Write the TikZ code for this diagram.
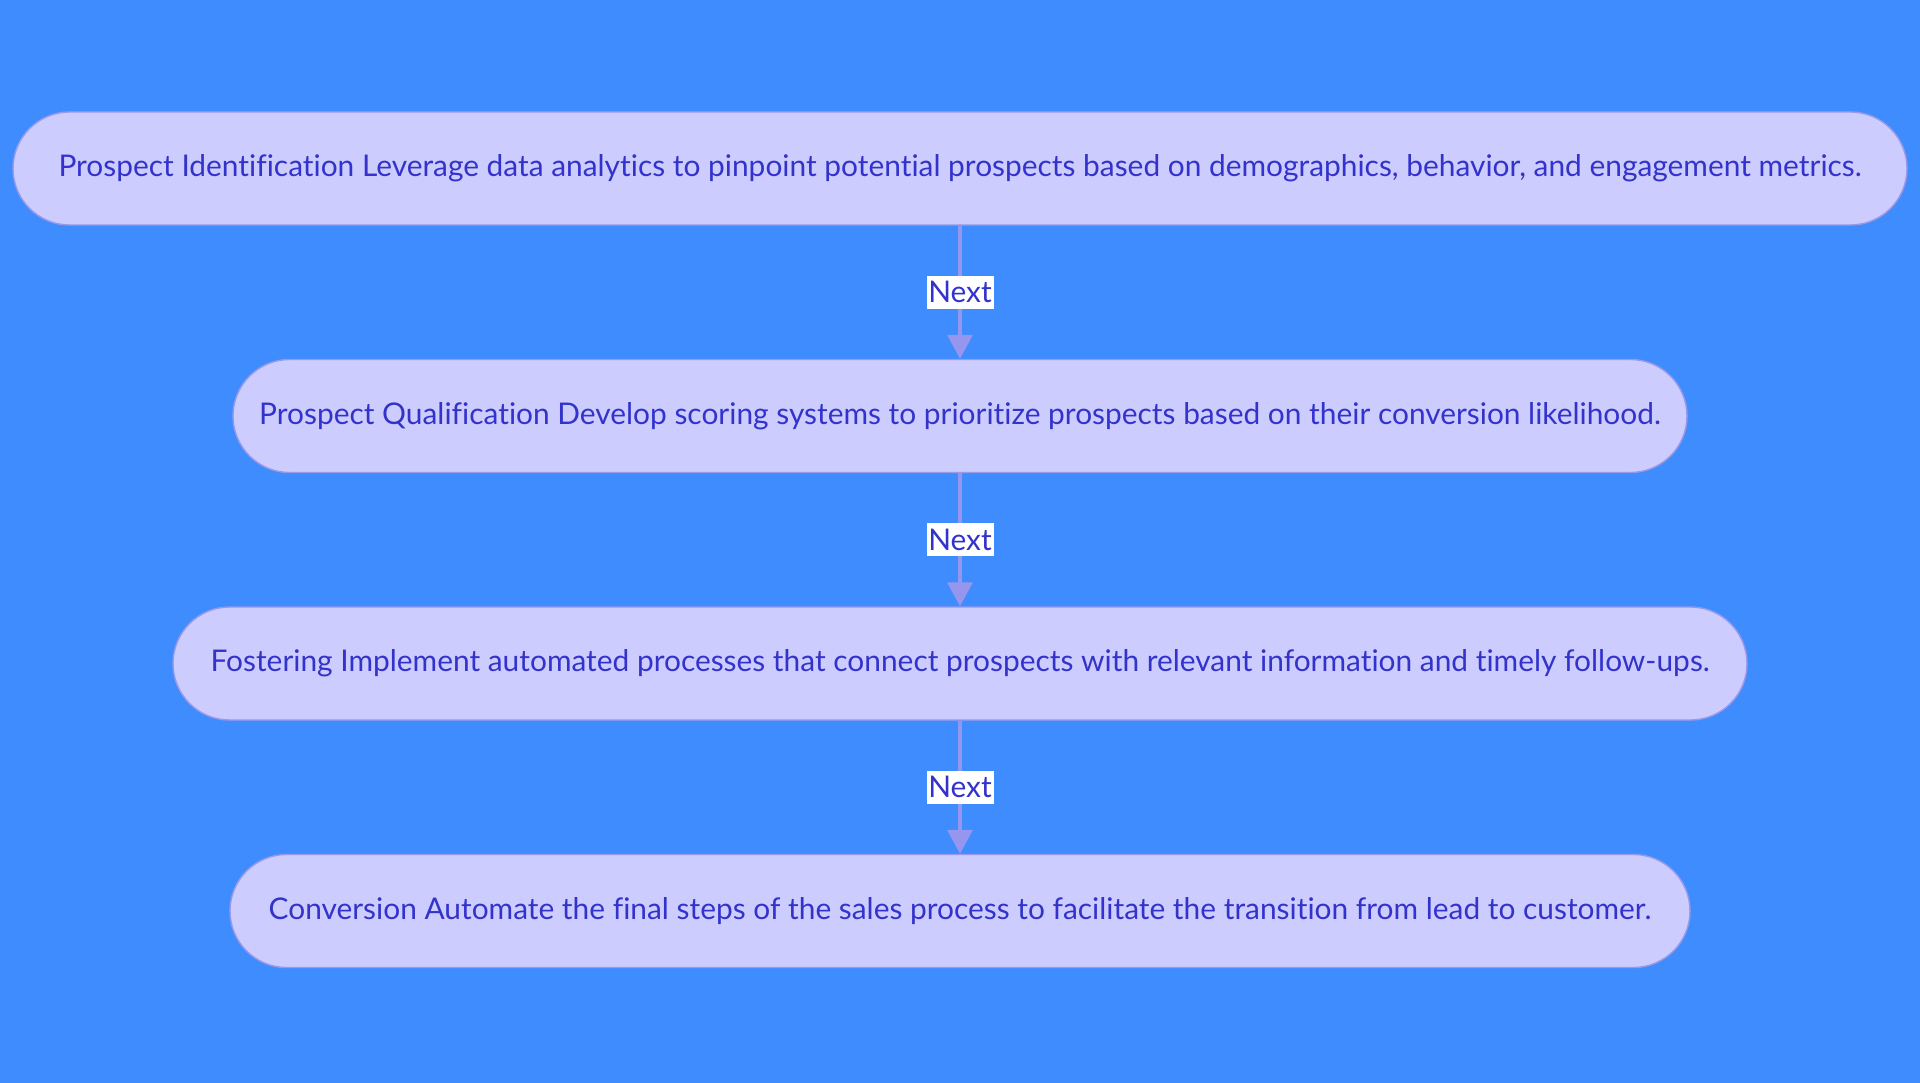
\documentclass[tikz,border=0pt]{standalone}
\usepackage{fontspec}
\setmainfont{Lato}[Ligatures=CommonOff]
\usetikzlibrary{arrows.meta,positioning}
\definecolor{bgblue}{RGB}{63,140,255}
\definecolor{boxfill}{RGB}{204,204,255}
\definecolor{boxline}{RGB}{153,153,232}
\definecolor{boxtext}{RGB}{51,51,204}
\definecolor{flowline}{RGB}{150,150,238}

\begin{document}
\begin{tikzpicture}[
    node distance=4.95cm,
    >={Triangle[width=0.5cm,length=0.48cm]},
    font=\fontsize{17}{20}\selectfont,
    stage/.style={
		rectangle,
		rounded corners=1.13cm,
		draw=boxline,
		line width=0.8pt,
		fill=boxfill,
		text=boxtext,
		text centered,
		minimum height=2.26cm
	},
	nextlabel/.style={
		fill=white,
		text=boxtext,
		inner xsep=1pt,
		minimum height=0.64cm
	},
	flow/.style={
		draw=flowline,
		line width=2pt
	}
  ]
    % background and page size
  \fill [bgblue] (0,0) rectangle (38.4,-21.66);
  \useasboundingbox (0,0) rectangle (38.4,-21.66);

    % We start by placing the stages
  \node [stage, minimum width=37.88cm] (ident) at (19.2,-3.37)
 {Prospect Identification Leverage data analytics to pinpoint potential prospects based on demographics, behavior, and engagement metrics.};

  \node [stage, minimum width=29.08cm, below of=ident] (qualif)
 {Prospect Qualification Develop scoring systems to prioritize prospects based on their conversion likelihood.};

  \node [stage, minimum width=31.48cm, below of=qualif] (foster)
 {Fostering Implement automated processes that connect prospects with relevant information and timely follow-ups.};

  \node [stage, minimum width=29.2cm, below of=foster] (convert)
 {Conversion Automate the final steps of the sales process to facilitate the transition from lead to customer.};

 \draw [flow,->] (ident) -- node [nextlabel] {Next} (qualif);
 \draw [flow,->] (qualif) -- node [nextlabel] {Next} (foster);
 \draw [flow,->] (foster) -- node [nextlabel] {Next} (convert);

\end{tikzpicture}
\end{document}
